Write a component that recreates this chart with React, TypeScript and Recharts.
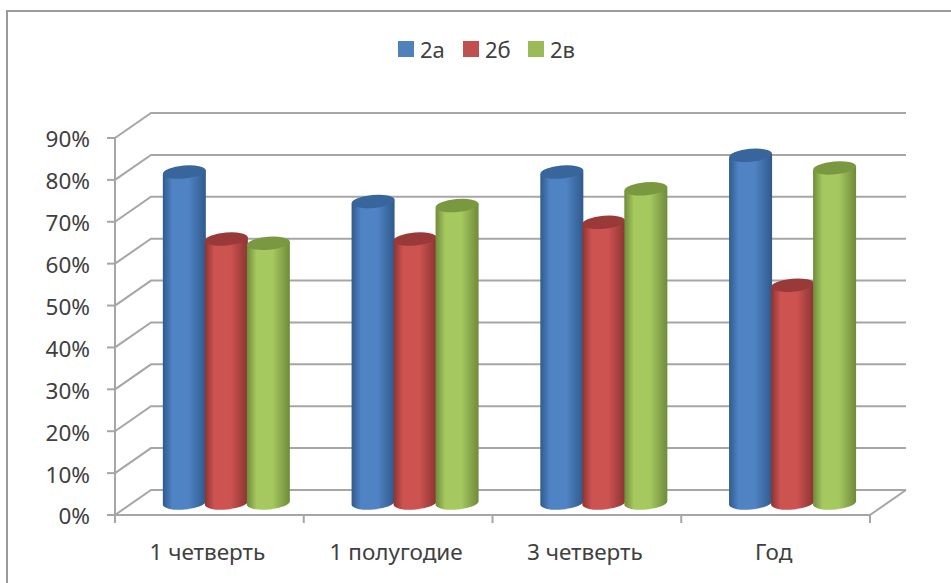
import React from 'react';
import { BarChart, Bar, XAxis, YAxis, CartesianGrid, Legend } from 'recharts';

const categories = ['1 четверть', '1 полугодие', '3 четверть', 'Год'];
const series2a = [0.79, 0.72, 0.79, 0.83];
const series2b = [0.63, 0.63, 0.67, 0.52];
const series2v = [0.62, 0.71, 0.75, 0.80];
const yTicks = [0, 0.1, 0.2, 0.3, 0.4, 0.5, 0.6, 0.7, 0.8, 0.9];

const data = categories.map((name, i) => ({ name, a: series2a[i], b: series2b[i], v: series2v[i] }));

const FONT = '"Noto Sans", sans-serif';
const TEXT = '#404040';
const GRID = '#a6a6a6';
const DX = 36;
const DY = -25;
const BAR_DX = 17;
const BAR_DY = -12;
const RY = 6.5;
const ANGLE = -5;

const Cylinder = (id: string, edge: string, mid: string, top: string) => (props: any) => {
  const { x, y, width, height } = props;
  const l = x + BAR_DX - 0.5;
  const w = width + 1;
  const r = l + w;
  const cx = l + w / 2;
  const yt = y + BAR_DY;
  const yb = y + height + BAR_DY;
  const t = (w / 2) * Math.sin((-ANGLE * Math.PI) / 180);
  return (
    <g>
      <defs>
        <linearGradient id={id} x1="0" y1="0" x2="1" y2="0">
          <stop offset="0%" stopColor={edge} />
          <stop offset="22%" stopColor={mid} />
          <stop offset="60%" stopColor={mid} />
          <stop offset="100%" stopColor={edge} />
        </linearGradient>
      </defs>
      <path
        d={`M${l},${yt + t} L${l},${yb + t} A${w / 2},${RY} ${ANGLE} 0 0 ${r},${yb - t} L${r},${yt - t} Z`}
        fill={`url(#${id})`}
      />
      <ellipse cx={cx} cy={yt} rx={w / 2} ry={RY} fill={top} transform={`rotate(${ANGLE} ${cx} ${yt})`} />
    </g>
  );
};

const gridLine = (props: any) => {
  const { x1, x2, y1, y2, index } = props;
  const isFloor = Math.abs(y1 - 515) < 1;
  return (
    <g key={`g-${index}-${y1}`} fill="none" stroke={GRID} strokeWidth={2}>
      <path d={`M${x1},${y1} L${x1 + DX},${y1 + DY} L${x2 + DX},${y2 + DY}`} />
      {isFloor ? <path d={`M${x2},${y2} L${x2 + DX},${y2 + DY}`} /> : null}
    </g>
  );
};

const CategoryTick = (props: any) => {
  const { x, payload, index, width, visibleTicksCount } = props;
  const band = width / visibleTicksCount;
  const axisY = 515;
  return (
    <g>
      <line x1={x - band / 2} x2={x - band / 2} y1={axisY} y2={axisY + 8} stroke={GRID} strokeWidth={2} />
      {index === visibleTicksCount - 1 ? (
        <line x1={x + band / 2} x2={x + band / 2} y1={axisY} y2={axisY + 8} stroke={GRID} strokeWidth={2} />
      ) : null}
      <text x={x - 2} y={560} textAnchor="middle" fontFamily={FONT} fontSize={22.5} fill={TEXT}>
        {payload.value}
      </text>
    </g>
  );
};

const LegendContent = (props: any) => (
  <div style={{ display: 'flex', fontFamily: FONT, fontSize: 22, color: TEXT, lineHeight: '26px' }}>
    {props.payload.map((p: any) => (
      <div key={p.value} style={{ display: 'flex', alignItems: 'center', width: 65 }}>
        <span style={{ display: 'inline-block', width: 16, height: 16, background: p.color, marginRight: 6 }} />
        <span>{p.value}</span>
      </div>
    ))}
  </div>
);

export default function App() {
  return (
    <div style={{ position: 'absolute', left: 0, top: 0, width: 951, height: 583, background: '#fff', overflow: 'hidden' }}>
      <div style={{ position: 'absolute', left: 6, top: 10, width: 960, height: 580, borderLeft: '2px solid #9a9a9a', borderTop: '2px solid #9a9a9a', boxSizing: 'border-box' }} />
      <BarChart
        width={951}
        height={583}
        data={data}
        margin={{ top: 112, right: 81, bottom: 0, left: 0 }}
        barCategoryGap="16.6%"
        barGap={0}
        style={{ position: 'absolute', left: 0, top: 0 }}
      >
        <CartesianGrid vertical={false} horizontal={gridLine} />
        <XAxis
          dataKey="name"
          height={68}
          tick={<CategoryTick />}
          tickLine={false}
          axisLine={{ stroke: GRID, strokeWidth: 2 }}
          interval={0}
        />
        <YAxis
          width={115}
          domain={[0, 0.9]}
          ticks={yTicks}
          interval={0}
          tickFormatter={(v: number) => `${Math.round(v * 100)}%`}
          tick={{ fontFamily: FONT, fontSize: 22.5, fill: TEXT, dy: 1.5 }}
          tickLine={{ stroke: GRID, strokeWidth: 2 }}
          axisLine={{ stroke: GRID, strokeWidth: 2 }}
          tickSize={8}
          tickMargin={17}
        />
        <Legend
          verticalAlign="top"
          content={<LegendContent />}
          wrapperStyle={{ position: 'absolute', top: 36, left: 398, width: 220 }}
        />
        <Bar dataKey="a" name="2а" fill="#4f81bd" isAnimationActive={false} shape={Cylinder('gradA', '#2f5a8c', '#4f83c4', '#37659c')} />
        <Bar dataKey="b" name="2б" fill="#c0504d" isAnimationActive={false} shape={Cylinder('gradB', '#8a3432', '#cd5351', '#9a3a38')} />
        <Bar dataKey="v" name="2в" fill="#9bbb59" isAnimationActive={false} shape={Cylinder('gradV', '#6f8b3a', '#a5c85f', '#7a9840')} />
      </BarChart>
    </div>
  );
}
